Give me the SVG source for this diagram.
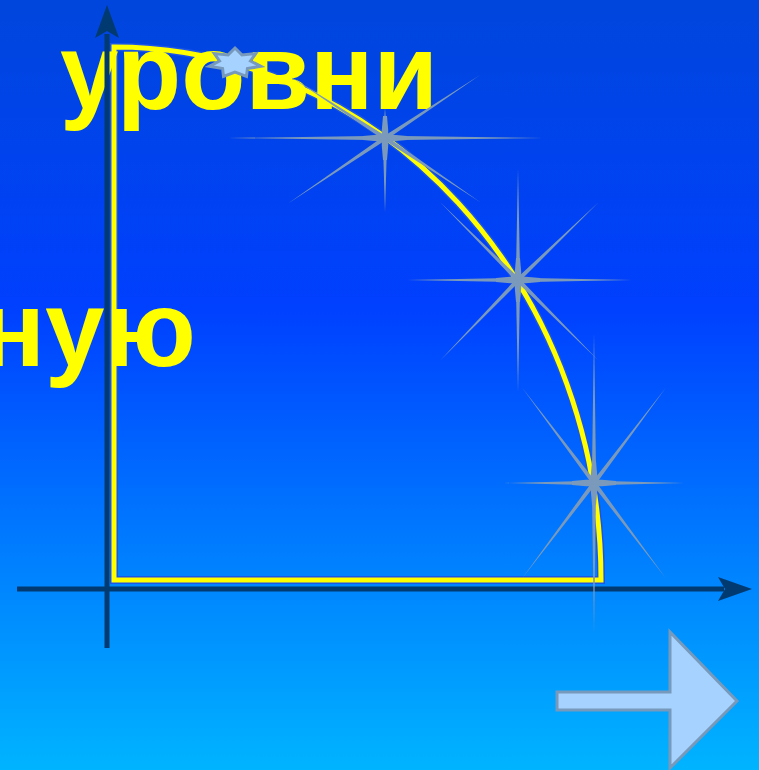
<svg xmlns="http://www.w3.org/2000/svg" xmlns:xlink="http://www.w3.org/1999/xlink" width="759" height="770" viewBox="0 0 759 770">
  <style>
    .lbl { font-family: "Liberation Sans", Arial, sans-serif; font-weight: bold; font-size: 107px; fill: #ffff00; }
    .axis { stroke: #003a70; stroke-width: 5; fill: none; }
    .axhead { fill: #003a70; }
    .spark { fill: #7b9abb; }
  </style>
  <defs>
    <linearGradient id="bg" x1="0" y1="0" x2="0" y2="1">
      <stop offset="0" stop-color="#0046dc"/>
      <stop offset="0.4" stop-color="#0040ff"/>
      <stop offset="1" stop-color="#00b4ff"/>
    </linearGradient>
    <path id="ray" d="M0,-2.2 L1,0 L0,2.2 Z"/>
    <path id="core" d="M-22,-2 L-8,-3.2 L8,-3.2 L22,-2 L22,2 L8,3.2 L-8,3.2 L-22,2 Z"/>
  </defs>

  <rect x="0" y="0" width="759" height="770" fill="url(#bg)"/>

  <g id="curve">
    <path d="M114,580 L601,580 A487,533 0 0 0 114,47 Z" fill="none" stroke="#1a55e8" stroke-width="8"/>
    <path d="M114,580 L601,580 A487,533 0 0 0 114,47 Z" fill="none" stroke="#ffff00" stroke-width="5"/>
  </g>

  <g id="labels">
    <text id="t1" class="lbl" x="60" y="109" textLength="378" lengthAdjust="spacingAndGlyphs">уровни</text>
    <text id="t2" class="lbl" x="196" y="366" text-anchor="end">ную</text>
  </g>

  <g id="axes">
    <line class="axis" x1="107" y1="34" x2="107" y2="648"/>
    <path class="axhead" d="M107,5 L119,38 L107,31 L95,38 Z"/>
    <line class="axis" x1="17" y1="589" x2="724" y2="589"/>
    <path class="axhead" d="M752,589 L718,577 L725,589 L718,601 Z"/>
  </g>

  <g id="sparkle1" class="spark">
    <use xlink:href="#ray" href="#ray" transform="translate(385,138) rotate(0) scale(158,1)"/>
    <use xlink:href="#ray" href="#ray" transform="translate(385,138) rotate(180) scale(157,1)"/>
    <use xlink:href="#ray" href="#ray" transform="translate(385,138) rotate(-90) scale(30,1)"/>
    <use xlink:href="#ray" href="#ray" transform="translate(385,138) rotate(90) scale(75,1)"/>
    <use xlink:href="#ray" href="#ray" transform="translate(385,138) rotate(-33.5) scale(114,1)"/>
    <use xlink:href="#ray" href="#ray" transform="translate(385,138) rotate(146) scale(117,1)"/>
    <use xlink:href="#ray" href="#ray" transform="translate(385,138) rotate(-147) scale(113,1)"/>
    <use xlink:href="#ray" href="#ray" transform="translate(385,138) rotate(34) scale(115,1)"/>
    <use xlink:href="#core" href="#core" transform="translate(385,138)"/>
    <use xlink:href="#core" href="#core" transform="translate(385,138) rotate(90)"/>
  </g>

  <g id="sparkle2" class="spark">
    <use xlink:href="#ray" href="#ray" transform="translate(518,280) rotate(0) scale(114,1)"/>
    <use xlink:href="#ray" href="#ray" transform="translate(518,280) rotate(180) scale(111,1)"/>
    <use xlink:href="#ray" href="#ray" transform="translate(518,280) rotate(-90) scale(111,1)"/>
    <use xlink:href="#ray" href="#ray" transform="translate(518,280) rotate(90) scale(112,1)"/>
    <use xlink:href="#ray" href="#ray" transform="translate(518,280) rotate(-44) scale(112,1)"/>
    <use xlink:href="#ray" href="#ray" transform="translate(518,280) rotate(134) scale(112,1)"/>
    <use xlink:href="#ray" href="#ray" transform="translate(518,280) rotate(-135) scale(110,1)"/>
    <use xlink:href="#ray" href="#ray" transform="translate(518,280) rotate(45) scale(113,1)"/>
    <use xlink:href="#core" href="#core" transform="translate(518,280)"/>
    <use xlink:href="#core" href="#core" transform="translate(518,280) rotate(90)"/>
  </g>

  <g id="sparkle3" class="spark">
    <use xlink:href="#ray" href="#ray" transform="translate(594,483) rotate(0) scale(90,1)"/>
    <use xlink:href="#ray" href="#ray" transform="translate(594,483) rotate(180) scale(90,1)"/>
    <use xlink:href="#ray" href="#ray" transform="translate(594,483) rotate(-90) scale(150,1)"/>
    <use xlink:href="#ray" href="#ray" transform="translate(594,483) rotate(90) scale(150,1)"/>
    <use xlink:href="#ray" href="#ray" transform="translate(594,483) rotate(-53) scale(119,1)"/>
    <use xlink:href="#ray" href="#ray" transform="translate(594,483) rotate(127) scale(119,1)"/>
    <use xlink:href="#ray" href="#ray" transform="translate(594,483) rotate(-127) scale(119,1)"/>
    <use xlink:href="#ray" href="#ray" transform="translate(594,483) rotate(53) scale(119,1)"/>
    <use xlink:href="#core" href="#core" transform="translate(594,483)"/>
    <use xlink:href="#core" href="#core" transform="translate(594,483) rotate(90)"/>
  </g>

  <g id="small-star">
    <polygon points="235,48 241.9,54.9 255.7,53.6 250.5,61 260.8,66.3 247.4,68.6 246.5,76.5 235,72 223.5,76.5 222.6,68.6 209.2,66.3 219.5,61 214.3,53.6 228.1,54.9" fill="#a6d2ff" stroke="#7799bb" stroke-width="3" stroke-linejoin="miter"/>
  </g>

  <g id="next-arrow">
    <path d="M557,692 L670,692 L670,632 L737,701 L670,768 L670,710 L557,710 Z" fill="#a6d2ff" stroke="#7799bb" stroke-width="3"/>
  </g>
</svg>
